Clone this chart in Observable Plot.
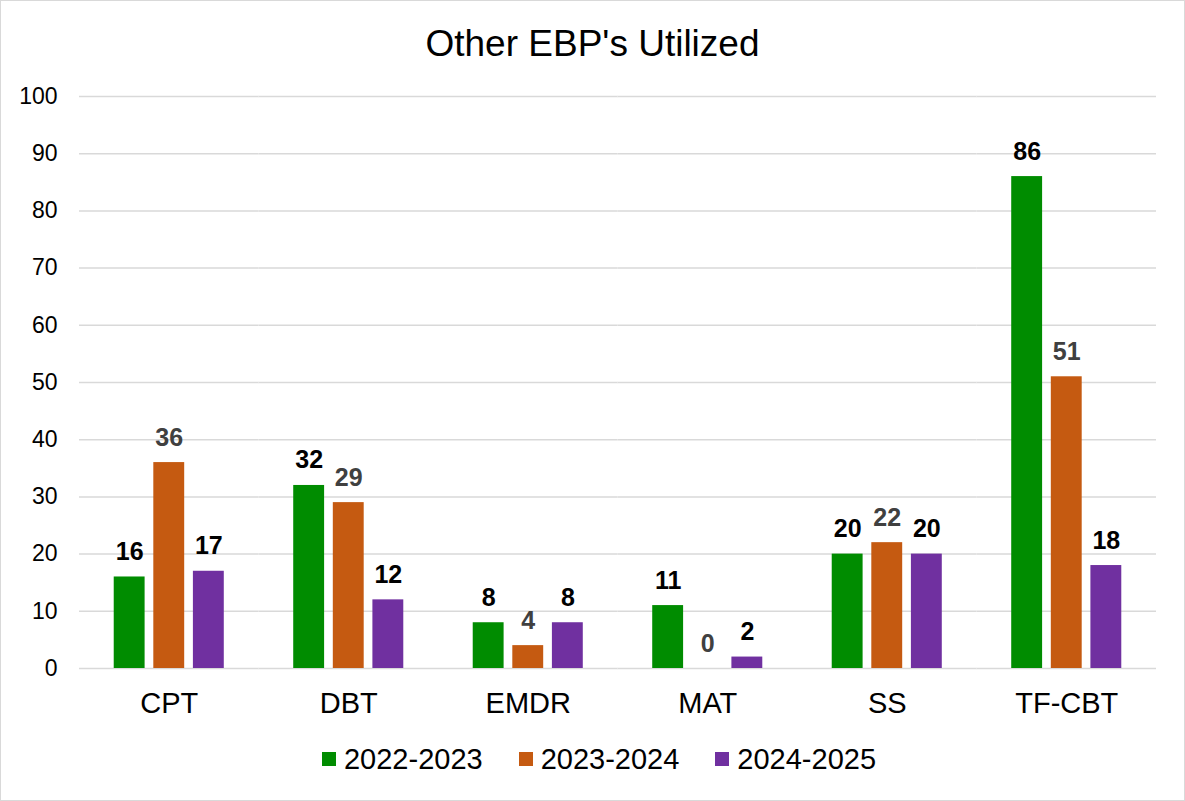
<!DOCTYPE html>
<html>
<head>
<meta charset="utf-8">
<script src="https://cdn.jsdelivr.net/npm/d3@7"></script>
<script src="https://cdn.jsdelivr.net/npm/@observablehq/plot@0.6"></script>
<style>
  html, body { margin: 0; padding: 0; background: #fff; }
  #chart {
    position: relative; width: 1185px; height: 801px; box-sizing: border-box;
    border: 1px solid #d9d9d9; background: #fff;
    font-family: "Liberation Sans", Arial, sans-serif; color: #000;
  }
  #title {
    height: 72px; box-sizing: border-box; padding-top: 13px; line-height: 60px;
    font-size: 37px; text-align: center; white-space: nowrap;
  }
  #plot svg { display: block; }
  #legend {
    position: absolute; left: 0; right: 0; top: 738px; height: 40px;
    display: flex; justify-content: center; align-items: center;
    padding-left: 13px; box-sizing: border-box;
    font-size: 29px; line-height: 40px;
  }
  .item { display: flex; align-items: center; margin-right: 36px; }
  .item:last-child { margin-right: 0; }
  .swatch { width: 14px; height: 14px; margin-right: 8px; }
</style>
</head>
<body>
<div id="chart">
  <div id="title">Other EBP's Utilized</div>
  <div id="plot"></div>
  <div id="legend"></div>
</div>
<script>
const categories = ["CPT", "DBT", "EMDR", "MAT", "SS", "TF-CBT"];
const seriesNames = ["2022-2023", "2023-2024", "2024-2025"];
const values2022 = [16, 32, 8, 11, 20, 86];
const values2023 = [36, 29, 4, 0, 22, 51];
const values2024 = [17, 12, 8, 2, 20, 18];
const seriesColors = ["#008C00", "#C55A11", "#7030A0"];
const labelColors = ["#000000", "#404040", "#000000"];
const yTicks = [0, 10, 20, 30, 40, 50, 60, 70, 80, 90, 100];

const seriesValues = [values2022, values2023, values2024];
const rows = seriesNames.map((s, i) =>
  categories.map((c, j) => ({category: c, series: s, value: seriesValues[i][j]}))
);

const marks = [
  Plot.ruleY(yTicks, {stroke: "#d9d9d9", strokeWidth: 1.5})
];
rows.forEach((data, i) => {
  marks.push(Plot.barY(data, {fx: "category", x: "series", y: "value", fill: seriesColors[i]}));
});
rows.forEach((data, i) => {
  marks.push(Plot.text(data, {
    fx: "category", x: "series", y: "value", text: d => String(d.value),
    fill: labelColors[i], lineAnchor: "bottom", dy: -17,
    fontWeight: "bold", fontSize: 25
  }));
});
marks.push(Plot.axisY({ticks: yTicks, tickSize: 0, tickPadding: 22, fontSize: 23, label: null}));
marks.push(Plot.axisFx({anchor: "bottom", tickSize: 0, tickPadding: 24, fontSize: 29, label: null}));

const chart = Plot.plot({
  width: 1183,
  height: 645,
  marginTop: 23,
  marginBottom: 50,
  marginLeft: 78,
  marginRight: 28,
  style: {fontFamily: "'Liberation Sans', Arial, sans-serif", color: "#000", background: "#fff"},
  fx: {domain: categories, padding: 0, round: false, label: null},
  x: {domain: seriesNames, paddingInner: 0.22, paddingOuter: 0.877, round: false, axis: null},
  y: {domain: [0, 100], label: null},
  marks
});
document.getElementById("plot").appendChild(chart);

const legend = document.getElementById("legend");
seriesNames.forEach((s, i) => {
  const item = document.createElement("div");
  item.className = "item";
  const sw = document.createElement("div");
  sw.className = "swatch";
  sw.style.background = seriesColors[i];
  const tx = document.createElement("span");
  tx.textContent = s;
  item.appendChild(sw);
  item.appendChild(tx);
  legend.appendChild(item);
});
</script>
</body>
</html>
